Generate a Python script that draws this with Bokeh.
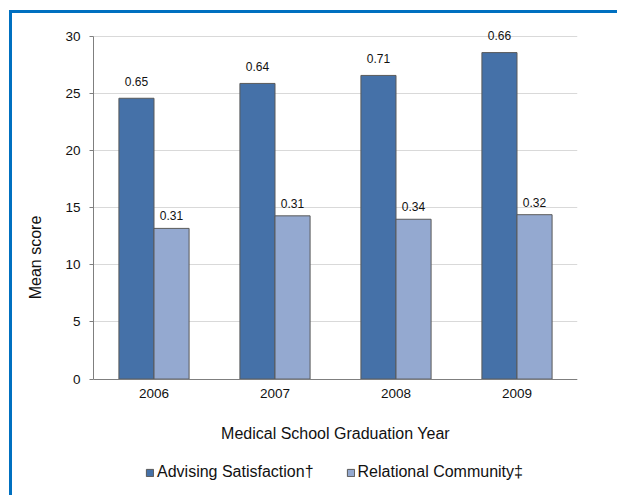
from bokeh.plotting import figure
from bokeh.models import (ColumnDataSource, Range1d, FactorRange, Legend, LegendItem,
                          FixedTicker, LabelSet)
from bokeh.transform import dodge
from bokeh.core.properties import value
from bokeh.embed import file_html
from bokeh.resources import INLINE

years = ["2006", "2007", "2008", "2009"]
advising = [24.6, 25.9, 26.6, 28.6]
relational = [13.2, 14.3, 14.0, 14.4]
advising_labels = ["0.65", "0.64", "0.71", "0.66"]
relational_labels = ["0.31", "0.31", "0.34", "0.32"]
y_ticks = [0, 5, 10, 15, 20, 25, 30]

FONT = "Liberation Sans"
DARK = "#4571A8"
LIGHT = "#94A9D0"
EDGE = "#5A5A5A"

src = ColumnDataSource(dict(year=years, adv=advising, rel=relational,
                            adv_lab=advising_labels, rel_lab=relational_labels))

p = figure(x_range=FactorRange(factors=years, range_padding=0), y_range=Range1d(-10.2, 31.5),
           width=608, height=485, frame_width=484, frame_height=476,
           output_backend="svg", toolbar_location=None,
           min_border_left=81, min_border_right=40, min_border_top=6, min_border_bottom=0,
           styles={"border-top": "3px solid #0070C0", "border-left": "3px solid #0070C0",
                   "margin-left": "9px", "margin-top": "10px"})
p.outline_line_color = None
p.background_fill_color = "white"
p.border_fill_color = "white"

r1 = p.vbar(x=dodge("year", -0.145, range=p.x_range), top="adv", width=0.29, source=src,
            fill_color=DARK, line_color=EDGE, line_width=1)
r2 = p.vbar(x=dodge("year", 0.145, range=p.x_range), top="rel", width=0.29, source=src,
            fill_color=LIGHT, line_color=EDGE, line_width=1)

lab1 = LabelSet(x=dodge("year", -0.145, range=p.x_range), y="adv", text="adv_lab", source=src,
                text_align="center", text_baseline="middle", y_offset=17,
                text_font_size=value("12px"), text_font=value(FONT), text_color="#111111")
lab2 = LabelSet(x=dodge("year", 0.145, range=p.x_range), y="rel", text="rel_lab", source=src,
                text_align="center", text_baseline="middle", y_offset=12.5,
                text_font_size=value("12px"), text_font=value(FONT), text_color="#111111")
p.add_layout(lab1)
p.add_layout(lab2)

p.xgrid.grid_line_color = None
p.ygrid.grid_line_color = "#D9D9D9"
p.ygrid.ticker = FixedTicker(ticks=y_ticks)

p.yaxis.ticker = FixedTicker(ticks=y_ticks)
p.yaxis.bounds = (0, 30)
p.yaxis.axis_label = "Mean score"
p.xaxis.axis_label = "Medical School Graduation Year"
p.xaxis.fixed_location = 0
for ax in (p.xaxis[0], p.yaxis[0]):
    ax.axis_line_color = "#7F7F7F"
    ax.major_tick_line_color = "#7F7F7F"
    ax.minor_tick_line_color = None
    ax.major_label_text_font = FONT
    ax.major_label_text_font_size = "13.5px"
    ax.major_label_text_color = "#111111"
    ax.axis_label_text_font = FONT
    ax.axis_label_text_font_size = "16px"
    ax.axis_label_text_font_style = "normal"
    ax.axis_label_text_color = "#111111"
p.yaxis.major_tick_out = 4
p.yaxis.major_tick_in = 0
p.yaxis.major_label_standoff = 9
p.yaxis.axis_label_standoff = 18
p.xaxis.major_tick_out = 0
p.xaxis.major_tick_in = 0
p.xaxis.major_label_standoff = 10
p.xaxis.axis_label_standoff = 23

legend = Legend(items=[LegendItem(label="Advising Satisfaction†", renderers=[r1]),
                       LegendItem(label="Relational Community‡", renderers=[r2])],
                location=(52, 14), orientation="horizontal",
                glyph_width=9, glyph_height=9, label_standoff=3, spacing=32,
                padding=0, margin=0, border_line_color=None, background_fill_alpha=0,
                label_text_font=FONT, label_text_font_size="16px", label_text_color="#111111",
                label_height=16)
p.add_layout(legend)

open("out.html", "w").write(file_html(p, INLINE))
